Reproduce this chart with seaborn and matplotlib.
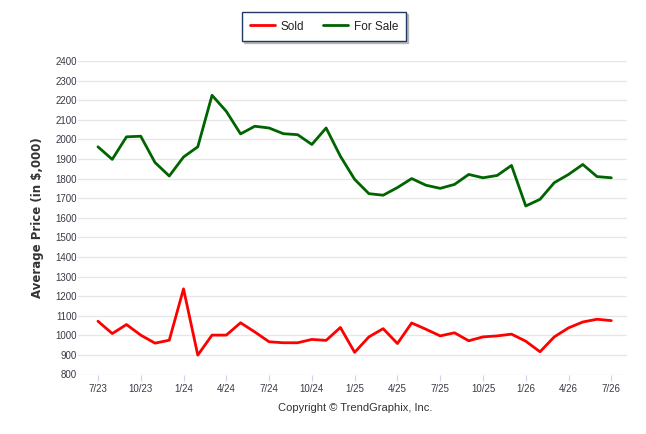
import matplotlib
matplotlib.use("Agg")
import matplotlib.pyplot as plt
import numpy as np
import pandas as pd
import seaborn as sns

MONTHS = [
    "7/23", "8/23", "9/23", "10/23", "11/23", "12/23",
    "1/24", "2/24", "3/24", "4/24", "5/24", "6/24",
    "7/24", "8/24", "9/24", "10/24", "11/24", "12/24",
    "1/25", "2/25", "3/25", "4/25", "5/25", "6/25",
    "7/25", "8/25", "9/25", "10/25", "11/25", "12/25",
    "1/26", "2/26", "3/26", "4/26", "5/26", "6/26",
    "7/26",
]
SOLD = [
    1072, 1009, 1055, 1001, 960, 975, 1237, 899, 1001, 1001, 1064, 1017,
    967, 962, 962, 979, 974, 1040, 913, 992, 1034, 958, 1063, 1031,
    997, 1013, 972, 992, 997, 1006, 970, 916, 992, 1038, 1068, 1082,
    1075,
]
FOR_SALE = [
    1962, 1898, 2013, 2016, 1882, 1813, 1910, 1962, 2225, 2143, 2028, 2067,
    2058, 2029, 2024, 1974, 2058, 1914, 1796, 1723, 1715, 1754, 1800, 1766,
    1750, 1770, 1821, 1804, 1816, 1867, 1660, 1694, 1779, 1821, 1872, 1810,
    1804,
]
Y_TICKS = list(range(800, 2401, 100))
SERIES = ["Sold", "For Sale"]
COLORS = {"Sold": "#ff0000", "For Sale": "#006400"}

TEXT = "#3a3a48"
GRID = "#e6e6e6"

idx = np.arange(len(MONTHS))
df = pd.concat([
    pd.DataFrame({"i": idx, "price": SOLD, "series": "Sold"}),
    pd.DataFrame({"i": idx, "price": FOR_SALE, "series": "For Sale"}),
])

sns.set_theme(style="white")
plt.rcParams["font.family"] = ["Liberation Sans", "DejaVu Sans"]

fig = plt.figure(figsize=(6.46, 4.34), dpi=100)
W, H = 646, 434
left, right, top, bottom = 78, 627, 61, 374.5
ax = fig.add_axes([left / W, 1 - bottom / H, (right - left) / W, (bottom - top) / H])

sns.lineplot(data=df, x="i", y="price", hue="series", hue_order=SERIES,
             palette=COLORS, linewidth=2.0, ax=ax, legend=False, zorder=3)

ax.set_ylim(800, 2400)
ax.set_xlim(-1.4, 37.1)
ax.set_yticks(Y_TICKS)
ax.set_yticklabels([str(v) for v in Y_TICKS])
tick_pos = idx[::3]
ax.set_xticks(tick_pos)
ax.set_xticklabels([MONTHS[i] for i in tick_pos])
ax.grid(axis="y", color=GRID, lw=0.9)
ax.grid(axis="x", visible=False)
for s in ax.spines.values():
    s.set_visible(False)
ax.tick_params(axis="y", length=0, pad=1, labelsize=7, labelcolor=TEXT)
ax.tick_params(axis="x", length=4, width=0.8, color="#ccd6eb", pad=3,
               labelsize=7, labelcolor=TEXT, bottom=True)
ax.set_xlabel("")
ax.set_ylabel("Average Price (in $,000)", fontsize=8.5, fontweight="bold",
              color="#333333", labelpad=8, family=["DejaVu Sans"])

handles = [plt.Line2D([0], [0], color=COLORS[s], lw=2.0) for s in SERIES]
leg = fig.legend(handles, SERIES, loc="center", bbox_to_anchor=(324 / W, 1 - 26.5 / H),
                 ncol=2, fontsize=8.5, frameon=True, fancybox=False,
                 shadow={"ox": 1.5, "oy": -1.5, "color": "#9a9a9a", "alpha": 0.6},
                 handlelength=2.1, handletextpad=0.5, columnspacing=1.6,
                 borderpad=0.7, edgecolor="#1f3864")
leg.get_frame().set_linewidth(1.0)
for t in leg.get_texts():
    t.set_color("#222222")

fig.text(355 / W, 1 - 408 / H, "Copyright \u00a9 TrendGraphix, Inc.",
         ha="center", va="center", fontsize=8, color="#333333")

fig.savefig("out.png", dpi=100)
